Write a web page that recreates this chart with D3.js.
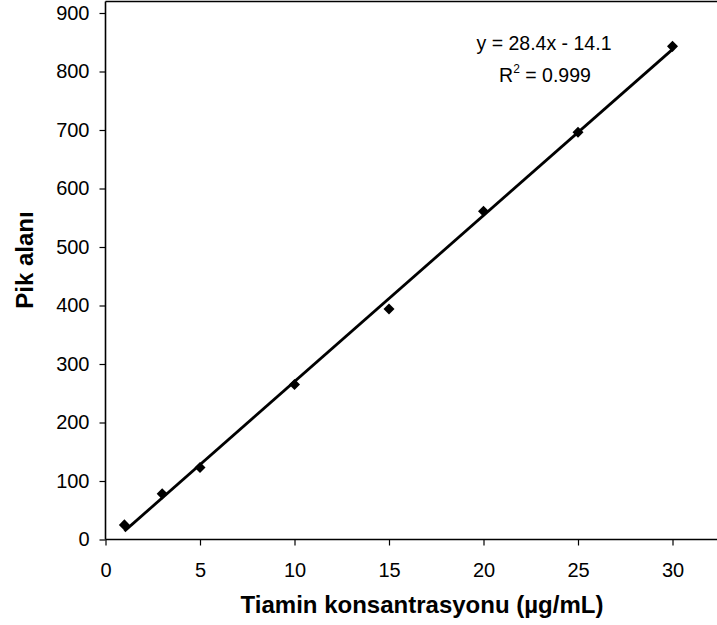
<!DOCTYPE html>
<html>
<head>
<meta charset="utf-8">
<script src="https://cdn.jsdelivr.net/npm/d3@7"></script>
<style>
  html, body { margin: 0; padding: 0; background: #fff; }
  svg { display: block; }
  text { font-family: "Liberation Sans", Arial, sans-serif; fill: #000; }
</style>
</head>
<body>
<svg id="chart" width="717" height="625"></svg>
<script>
// Calibration data: thiamine concentration (µg/mL) vs peak area
const concentrations = [1, 3, 5, 10, 15, 20, 25, 30];
const peakAreas = [25, 78, 123, 265, 394, 561, 696, 843];

// Linear trendline as reported
const slope = 28.4;
const intercept = -14.1;
const rSquared = "0.999";

const xTicks = [0, 5, 10, 15, 20, 25, 30];
const yTicks = [0, 100, 200, 300, 400, 500, 600, 700, 800, 900];

const xTitle = "Tiamin konsantrasyonu (µg/mL)";
const yTitle = "Pik alanı";

const svg = d3.select("#chart");

const x = d3.scaleLinear().domain([0, 30]).range([105.5, 672.5]);
const y = d3.scaleLinear().domain([0, 900]).range([539.5, 13]);

const plotRight = 717;
const plotTop = 1.5;

// Plot frame: top edge
svg.append("line")
  .attr("x1", x(0)).attr("x2", plotRight)
  .attr("y1", plotTop).attr("y2", plotTop)
  .attr("stroke", "#000").attr("stroke-width", 1.6);

// Axes
const xAxis = svg.append("g")
  .attr("transform", `translate(0,${y(0)})`)
  .call(d3.axisBottom(x).tickValues(xTicks).tickSize(6).tickSizeOuter(0).tickPadding(17));
xAxis.select(".domain").attr("d", `M${x(0)},0H${plotRight}`).attr("stroke-width", 1.6);

const yAxis = svg.append("g")
  .attr("transform", `translate(${x(0)},0)`)
  .call(d3.axisLeft(y).tickValues(yTicks).tickSize(6).tickSizeOuter(0).tickPadding(10));
yAxis.select(".domain").attr("d", `M0,${y(0)}V${plotTop}`).attr("stroke-width", 1.6);

svg.selectAll(".tick line").attr("stroke-width", 1.2);
svg.selectAll(".tick text")
  .style("font-family", "'Liberation Sans', Arial, sans-serif")
  .style("font-size", "20px");

// Trendline from the fitted equation
const xMin = d3.min(concentrations), xMax = d3.max(concentrations);
svg.append("line")
  .attr("x1", x(xMin)).attr("y1", y(slope * xMin + intercept))
  .attr("x2", x(xMax)).attr("y2", y(slope * xMax + intercept))
  .attr("stroke", "#000").attr("stroke-width", 2.8);

// Data markers (diamonds)
const diamond = d3.symbol().type(d3.symbolDiamond2).size(78);
svg.append("g")
  .selectAll("path")
  .data(concentrations.map((c, i) => [c, peakAreas[i]]))
  .join("path")
  .attr("d", diamond)
  .attr("transform", d => `translate(${x(d[0])},${y(d[1])})`)
  .attr("fill", "#000");

// Equation label
const eq = svg.append("g").style("font-size", "19.5px");
eq.append("text")
  .attr("x", 544).attr("y", 49.5)
  .attr("text-anchor", "middle")
  .text(`y = ${slope}x - ${Math.abs(intercept)}`);
const r2 = eq.append("text")
  .attr("x", 545).attr("y", 81.5)
  .attr("text-anchor", "middle");
r2.append("tspan").text("R");
r2.append("tspan").attr("dy", -9).style("font-size", "12px").text("2");
r2.append("tspan").attr("dy", 9).text(` = ${rSquared}`);

// Axis titles
svg.append("text")
  .attr("x", 422).attr("y", 613)
  .attr("text-anchor", "middle")
  .style("font-size", "24px").style("font-weight", "bold")
  .text(xTitle);

svg.append("text")
  .attr("transform", "translate(33,260) rotate(-90)")
  .attr("text-anchor", "middle")
  .style("font-size", "24px").style("font-weight", "bold")
  .text(yTitle);
</script>
</body>
</html>
